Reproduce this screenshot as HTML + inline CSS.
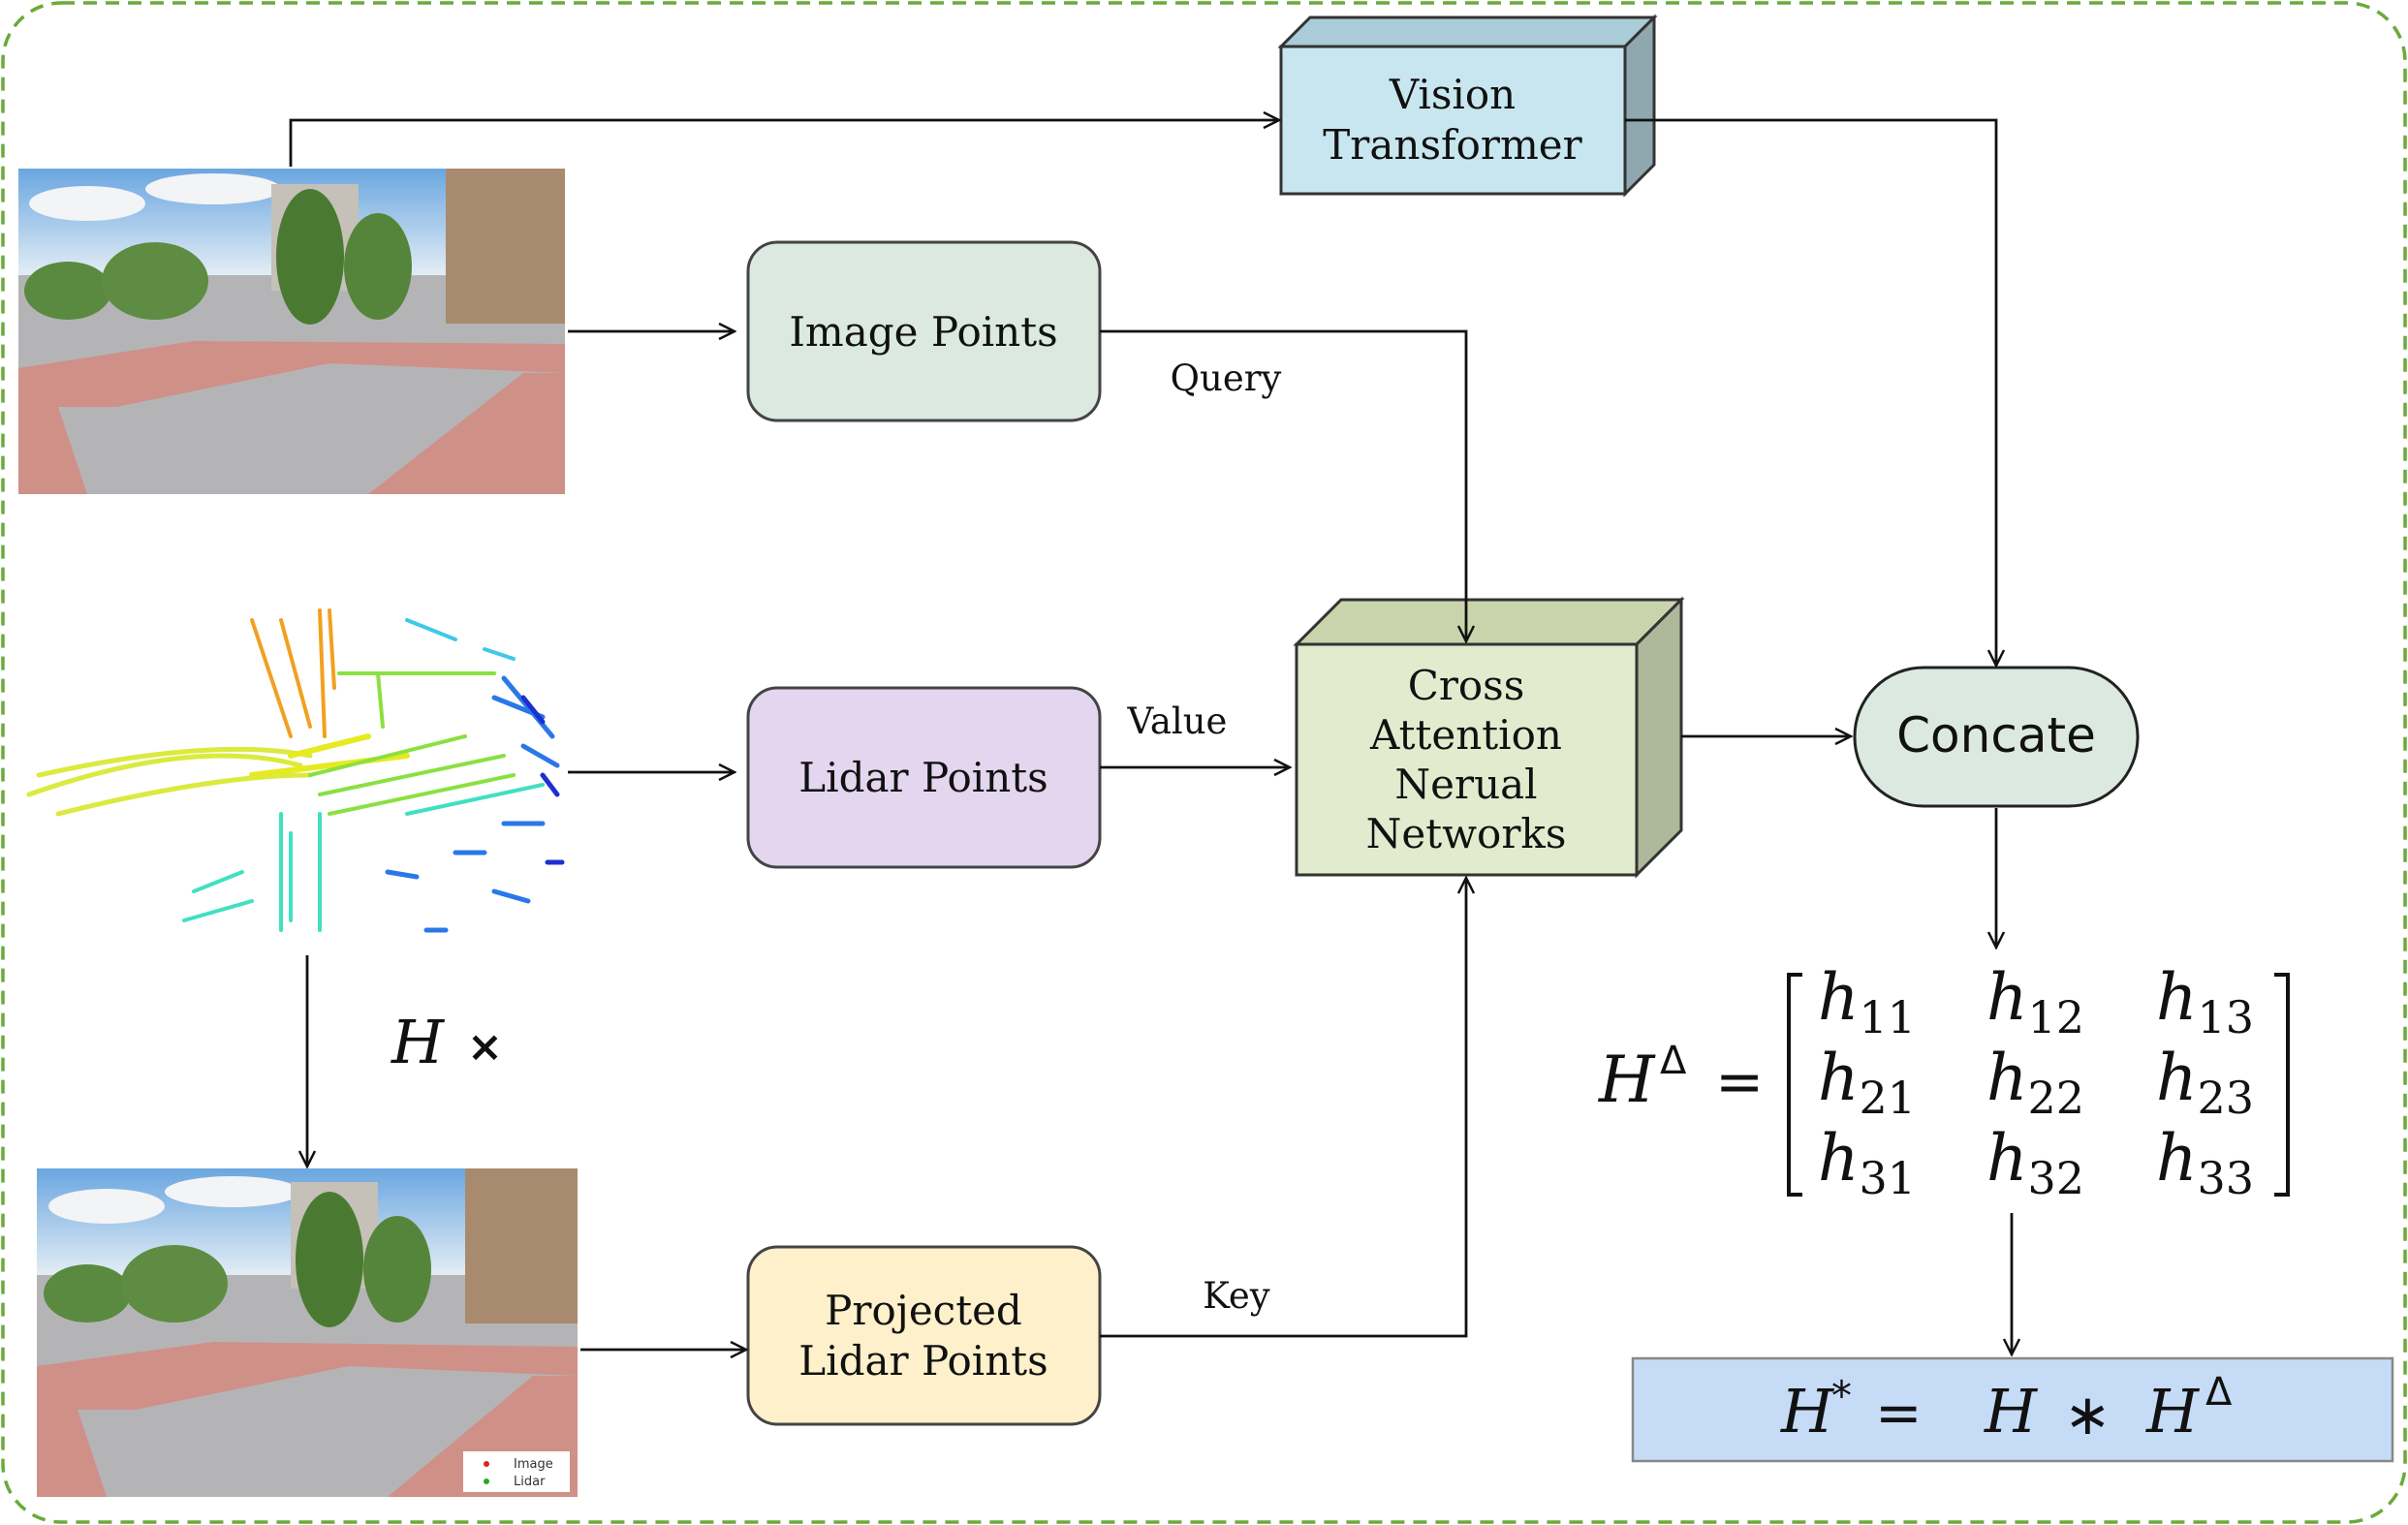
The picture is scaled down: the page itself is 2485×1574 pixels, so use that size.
<!DOCTYPE html>
<html><head><meta charset="utf-8"><style>
html,body{margin:0;padding:0;background:#fff;}
svg{display:block}
.t{font-family:"DejaVu Serif","Liberation Serif",serif;fill:#111;}
.m{font-family:"DejaVu Serif","Liberation Serif",serif;font-style:italic;fill:#111;}
</style></head><body>
<svg width="2485" height="1574" viewBox="0 0 2485 1574" xmlns="http://www.w3.org/2000/svg">
<defs>
<marker id="a" viewBox="0 0 20 20" refX="18" refY="10" markerWidth="20" markerHeight="20" markerUnits="userSpaceOnUse" orient="auto">
<path d="M2,2 L18,10 L2,18" fill="none" stroke="#111" stroke-width="2.5"/></marker>
<linearGradient id="sky" x1="0" y1="0" x2="0" y2="1"><stop offset="0" stop-color="#6aa6e0"/><stop offset="1" stop-color="#e3edf5"/></linearGradient>
</defs>
<rect x="3" y="3" width="2479" height="1568" rx="60" fill="none" stroke="#6aaa3a" stroke-width="3.5" stroke-dasharray="14,9"/>

<!-- photo 1 -->
<g>
<rect x="19" y="174" width="564" height="336" fill="#b4b4b6"/>
<rect x="19" y="174" width="564" height="110" fill="url(#sky)"/>
<ellipse cx="90" cy="210" rx="60" ry="18" fill="#f2f4f6"/>
<ellipse cx="220" cy="195" rx="70" ry="16" fill="#f2f4f6"/>
<rect x="460" y="174" width="123" height="160" fill="#a88a6e"/>
<rect x="280" y="190" width="90" height="110" fill="#c5c0b8"/>
<ellipse cx="70" cy="300" rx="45" ry="30" fill="#5a8a40"/>
<ellipse cx="160" cy="290" rx="55" ry="40" fill="#5e8c42"/>
<ellipse cx="320" cy="265" rx="35" ry="70" fill="#4a7a32"/>
<ellipse cx="390" cy="275" rx="35" ry="55" fill="#55853a"/>
<polygon points="19,380 200,352 583,355 583,385 340,375 120,420 19,420" fill="#cf9088"/>
<polygon points="19,420 60,420 90,510 19,510" fill="#cf9088"/>
<polygon points="540,385 583,385 583,510 380,510" fill="#cf9088"/>
</g>

<!-- lidar -->
<g stroke-linecap="round">
<g stroke="#d8e82a" stroke-width="5" opacity="0.9">
<path d="M30,820 Q200,760 310,790" fill="none"/><path d="M40,800 Q220,760 320,780" fill="none"/>
<path d="M60,840 Q220,800 320,800" fill="none"/>
</g>
<g stroke="#f2a020" stroke-width="4"><path d="M260,640 L300,760"/><path d="M290,640 L320,750"/><path d="M330,630 L335,760"/><path d="M340,630 L345,710"/></g>
<g stroke="#e6ea20" stroke-width="6"><path d="M300,780 L380,760"/><path d="M260,800 L420,780"/></g>
<g stroke="#8ae040" stroke-width="4"><path d="M350,695 L510,695"/><path d="M390,695 L395,750"/><path d="M320,800 L480,760"/><path d="M330,820 L520,780"/><path d="M340,840 L530,800"/></g>
<g stroke="#40e0c0" stroke-width="4"><path d="M290,840 L290,960"/><path d="M330,840 L330,960"/><path d="M300,860 L300,950"/><path d="M200,920 L250,900"/><path d="M190,950 L260,930"/><path d="M420,840 L560,810"/></g>
<g stroke="#2a78e8" stroke-width="5"><path d="M510,720 L560,740"/><path d="M520,700 L570,760"/><path d="M540,770 L575,790"/><path d="M470,880 L500,880"/><path d="M400,900 L430,905"/><path d="M520,850 L560,850"/><path d="M510,920 L545,930"/><path d="M440,960 L460,960"/></g>
<g stroke="#1c2fd0" stroke-width="5"><path d="M540,720 L560,745"/><path d="M560,800 L575,820"/><path d="M565,890 L580,890"/></g>
<g stroke="#40c8e8" stroke-width="4"><path d="M420,640 L470,660"/><path d="M500,670 L530,680"/></g>
</g>

<!-- photo 2 -->
<g>
<rect x="38" y="1206" width="558" height="339" fill="#b4b4b6"/>
<rect x="38" y="1206" width="558" height="110" fill="url(#sky)"/>
<ellipse cx="110" cy="1245" rx="60" ry="18" fill="#f2f4f6"/>
<ellipse cx="240" cy="1230" rx="70" ry="16" fill="#f2f4f6"/>
<rect x="480" y="1206" width="116" height="160" fill="#a88a6e"/>
<rect x="300" y="1220" width="90" height="110" fill="#c5c0b8"/>
<ellipse cx="90" cy="1335" rx="45" ry="30" fill="#5a8a40"/>
<ellipse cx="180" cy="1325" rx="55" ry="40" fill="#5e8c42"/>
<ellipse cx="340" cy="1300" rx="35" ry="70" fill="#4a7a32"/>
<ellipse cx="410" cy="1310" rx="35" ry="55" fill="#55853a"/>
<polygon points="38,1410 220,1385 596,1390 596,1420 360,1410 140,1455 38,1455" fill="#cf9088"/>
<polygon points="38,1455 80,1455 110,1545 38,1545" fill="#cf9088"/>
<polygon points="550,1420 596,1420 596,1545 400,1545" fill="#cf9088"/>
<rect x="478" y="1498" width="110" height="42" fill="#fff"/>
<text x="530" y="1515" font-family="DejaVu Sans,sans-serif" font-size="13" fill="#333">Image</text>
<text x="530" y="1533" font-family="DejaVu Sans,sans-serif" font-size="13" fill="#333">Lidar</text>
<circle cx="502" cy="1511" r="3" fill="#d22"/><circle cx="502" cy="1529" r="3" fill="#2a2"/>
</g>

<!-- Vision Transformer -->
<polygon points="1322,48 1352,18 1707,18 1677,48" fill="#a9ccd6" stroke="#333" stroke-width="3"/>
<polygon points="1677,48 1707,18 1707,170 1677,200" fill="#8fa8b0" stroke="#333" stroke-width="3"/>
<rect x="1322" y="48" width="355" height="152" fill="#c8e6ef" stroke="#333" stroke-width="3"/>
<text class="t" x="1499" y="112" font-size="42" text-anchor="middle">Vision</text>
<text class="t" x="1499" y="164" font-size="42" text-anchor="middle">Transformer</text>

<!-- boxes -->
<rect x="772" y="250" width="363" height="184" rx="30" fill="#dbe9e1" stroke="#444" stroke-width="3"/>
<text class="t" x="953" y="357" font-size="42" text-anchor="middle">Image Points</text>
<rect x="772" y="710" width="363" height="185" rx="30" fill="#e4d6ee" stroke="#444" stroke-width="3"/>
<text class="t" x="953" y="817" font-size="42" text-anchor="middle">Lidar Points</text>
<rect x="772" y="1287" width="363" height="183" rx="30" fill="#fdf0cb" stroke="#444" stroke-width="3"/>
<text class="t" x="953" y="1367" font-size="42" text-anchor="middle">Projected</text>
<text class="t" x="953" y="1419" font-size="42" text-anchor="middle">Lidar Points</text>

<!-- Cross attention -->
<polygon points="1338,665 1384,619 1735,619 1689,665" fill="#c9d4ad" stroke="#333" stroke-width="3"/>
<polygon points="1689,665 1735,619 1735,857 1689,903" fill="#aeb89a" stroke="#333" stroke-width="3"/>
<rect x="1338" y="665" width="351" height="238" fill="#e3ebcf" stroke="#333" stroke-width="3"/>
<text class="t" x="1513" y="722" font-size="42" text-anchor="middle">Cross</text>
<text class="t" x="1513" y="773" font-size="42" text-anchor="middle">Attention</text>
<text class="t" x="1513" y="824" font-size="42" text-anchor="middle">Nerual</text>
<text class="t" x="1513" y="875" font-size="42" text-anchor="middle">Networks</text>

<!-- Concate -->
<rect x="1914" y="689" width="292" height="143" rx="71" fill="#dbe9e1" stroke="#222" stroke-width="3"/>
<text x="2060" y="776" font-family="DejaVu Sans,Liberation Sans,sans-serif" font-size="50" text-anchor="middle" fill="#111">Concate</text>

<!-- connectors -->
<g fill="none" stroke="#111" stroke-width="2.8">
<path d="M300,172 V124 H1320" marker-end="url(#a)"/>
<path d="M1677,124 H2060 V687" marker-end="url(#a)"/>
<path d="M586,342 H758" marker-end="url(#a)"/>
<path d="M1135,342 H1513 V662" marker-end="url(#a)"/>
<path d="M586,797 H758" marker-end="url(#a)"/>
<path d="M1135,792 H1331" marker-end="url(#a)"/>
<path d="M1135,1379 H1513 V906" marker-end="url(#a)"/>
<path d="M599,1393 H770" marker-end="url(#a)"/>
<path d="M317,986 V1204" marker-end="url(#a)"/>
<path d="M1735,760 H1910" marker-end="url(#a)"/>
<path d="M2060,834 V978" marker-end="url(#a)"/>
<path d="M2076,1252 V1398" marker-end="url(#a)"/>
</g>
<text class="t" x="1265" y="403" font-size="37" text-anchor="middle">Query</text>
<text class="t" x="1215" y="757" font-size="37" text-anchor="middle">Value</text>
<text class="t" x="1276" y="1350" font-size="37" text-anchor="middle">Key</text>

<text class="m" x="404" y="1097" font-size="62">H</text>
<text x="482" y="1095" font-family="DejaVu Sans,sans-serif" font-size="44" font-weight="bold" fill="#111">×</text>

<!-- matrix -->
<text class="m" x="1650" y="1137" font-size="66">H</text>
<text x="1713" y="1108" font-family="DejaVu Sans,sans-serif" font-size="40" fill="#111">Δ</text>
<text x="1770" y="1137" font-family="DejaVu Sans,sans-serif" font-size="60" fill="#111">=</text>
<path d="M1860,1006 H1846 V1233 H1860" fill="none" stroke="#111" stroke-width="4"/>
<path d="M2347,1006 H2361 V1233 H2347" fill="none" stroke="#111" stroke-width="4"/>
<g class="m" font-size="66">
<text x="1876" y="1052">h<tspan font-size="46" font-style="normal" dy="14">11</tspan></text>
<text x="2050" y="1052">h<tspan font-size="46" font-style="normal" dy="14">12</tspan></text>
<text x="2225" y="1052">h<tspan font-size="46" font-style="normal" dy="14">13</tspan></text>
<text x="1876" y="1135">h<tspan font-size="46" font-style="normal" dy="14">21</tspan></text>
<text x="2050" y="1135">h<tspan font-size="46" font-style="normal" dy="14">22</tspan></text>
<text x="2225" y="1135">h<tspan font-size="46" font-style="normal" dy="14">23</tspan></text>
<text x="1876" y="1218">h<tspan font-size="46" font-style="normal" dy="14">31</tspan></text>
<text x="2050" y="1218">h<tspan font-size="46" font-style="normal" dy="14">32</tspan></text>
<text x="2225" y="1218">h<tspan font-size="46" font-style="normal" dy="14">33</tspan></text>
</g>

<!-- result -->
<rect x="1685" y="1402" width="784" height="106" fill="#c6dbf6" stroke="#888" stroke-width="2.5"/>
<text class="m" x="1838" y="1478" font-size="62">H</text>
<text x="1890" y="1455" font-family="DejaVu Sans,sans-serif" font-size="42" fill="#111">*</text>
<text x="1935" y="1478" font-family="DejaVu Sans,sans-serif" font-size="58" fill="#111">=</text>
<text class="m" x="2048" y="1478" font-size="62">H</text>
<text x="2130" y="1480" font-family="DejaVu Sans,sans-serif" font-size="58" fill="#111">∗</text>
<text class="m" x="2215" y="1478" font-size="62">H</text>
<text x="2276" y="1450" font-family="DejaVu Sans,sans-serif" font-size="40" fill="#111">Δ</text>
</svg>
</body></html>
